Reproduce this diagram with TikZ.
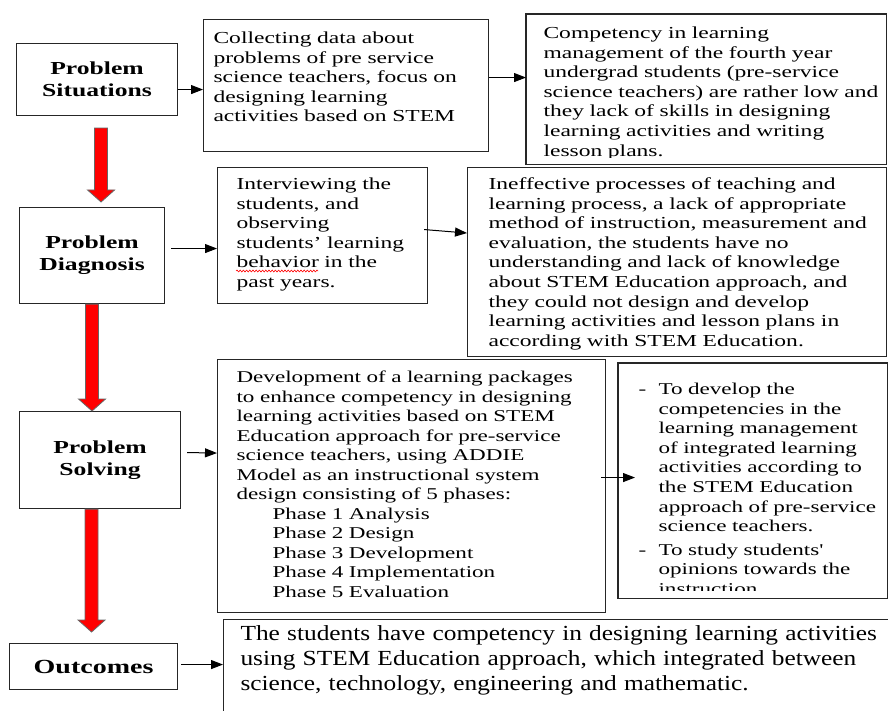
\documentclass[tikz,border=0pt]{standalone}
\usepackage{fontspec}
\setmainfont{Liberation Serif}[FakeStretch=1.4]
\newfontfamily\widerm{Liberation Serif}[FakeStretch=1.18]
\usetikzlibrary{arrows.meta,calc,decorations.pathmorphing}

\begin{document}
\begin{tikzpicture}[x=1pt,y=-1pt]
  \tikzset{boxline/.style = {draw=black!85, line width=1.1pt}}
  \tikzset{label/.style = {boxline, anchor=north west, inner sep=0pt, align=center, font=\bfseries\fontsize{18.3}{22}\selectfont}}
  \tikzset{tbox/.style = {boxline, anchor=north west, inner sep=0pt, align=left, font=\fontsize{16.8}{19.6}\selectfont}}
  \tikzset{lpad/.style = {execute at begin node={\leftskip=#1\relax}}}
  \tikzset{edge/.style = {-{Triangle[length=12pt,width=9pt]}, line width=1pt}}
  \tikzset{redarrow/.style = {fill=red, draw=black!60, line width=0.8pt}}
  \tikzset{spellwave/.style = {red, line width=0.6pt, decorate, decoration={snake, amplitude=0.9pt, segment length=3.2pt}}}

  \useasboundingbox (0,0) rectangle (888,711);
  \clip (0,0) rectangle (888,711);

  % stages
  \node[label, minimum width=161pt, minimum height=72pt] (sit) at (16,43) {Problem\\Situations};
  \node[label, minimum width=145pt, minimum height=96pt] (diag) at (19,207) {Problem\\Diagnosis};
  \node[label, minimum width=161pt, minimum height=97pt] (solv) at (19,411) {Problem\\Solving};
  \node[label, minimum width=168pt, minimum height=46pt, font=\bfseries\fontsize{20}{24}\selectfont] (outc) at (9,643) {Outcomes};

  % text boxes
  \node[tbox, text width=285pt, text height=24pt, text depth=108pt, lpad=10pt] (collect) at (203,19) {%
    Collecting data about\\
    problems of pre service\\
    science teachers, focus on\\
    designing learning\\
    activities based on STEM};

  \begin{scope}
    \clip (526,14) rectangle (885,158);
    \node[tbox, draw=none, text width=359pt, text height=24pt, text depth=125pt, lpad=17pt] (comp) at (526,14) {%
      Competency in learning\\
      management of the fourth year\\
      undergrad students (pre-service\\
      science teachers) are rather low and\\
      they lack of skills in designing\\
      learning activities and writing\\
      lesson plans.};
  \end{scope}
  \draw[boxline] (comp.north west) rectangle (comp.south east);

  \node[tbox, text width=210pt, text height=22pt, text depth=114pt, lpad=19pt] (interv) at (217,167) {%
    Interviewing the\\
    students, and\\
    observing\\
    students’ learning\\
    behavior in the\\
    past years.};
  \coordinate (typo) at ([xshift=19pt,yshift=-104pt]interv.north west);
  \draw[spellwave] (typo) -- ([xshift=82pt]typo);

  \node[tbox, text width=419pt, text height=22pt, text depth=167pt, lpad=21pt] (ineff) at (467,167) {%
    Ineffective processes of teaching and\\
    learning process, a lack of appropriate\\
    method of instruction, measurement and\\
    evaluation, the students have no\\
    understanding and lack of knowledge\\
    about STEM Education approach, and\\
    they could not design and develop\\
    learning activities and lesson plans in\\
    according with STEM Education.};

  \node[tbox, text width=388pt, text height=23pt, text depth=230pt, lpad=19pt, font=\fontsize{16.5}{19.5}\selectfont] (dev) at (217,359) {%
    Development of a learning packages\\
    to enhance competency in designing\\
    learning activities based on STEM\\
    Education approach for pre-service\\
    science teachers, using ADDIE\\
    Model as an instructional system\\
    design consisting of 5 phases:\\
    \hspace*{36pt}Phase 1 Analysis\\
    \hspace*{36pt}Phase 2 Design\\
    \hspace*{36pt}Phase 3 Development\\
    \hspace*{36pt}Phase 4 Implementation\\
    \hspace*{36pt}Phase 5 Evaluation};

  \begin{scope}
    \clip (618,363) rectangle (886,590);
    \node[tbox, draw=none, text width=268pt, text height=31pt, text depth=203pt, lpad=20pt, font=\fontsize{16.5}{19.6}\selectfont] (obj) at (618,363) {%
      \begin{tabular}[t]{@{}p{20pt}@{}l@{}}
        - & To develop the\\
          & competencies in the\\
          & learning management\\
          & of integrated learning\\
          & activities according to\\
          & the STEM Education\\
          & approach of pre-service\\
          & science teachers.\\[4pt]
        - & To study students\textquotesingle\\
          & opinions towards the\\
          & instruction
      \end{tabular}};
  \end{scope}
  \draw[boxline] (obj.north west) rectangle (obj.south east);

  \node[tbox, text width=700pt, text height=21pt, text depth=150pt, lpad=17pt, font=\widerm\fontsize{21.5}{25}\selectfont] (result) at (223,619) {%
    The students have competency in designing learning activities\\
    using STEM Education approach, which integrated between\\
    science, technology, engineering and mathematic.};

  % red arrows between stages
  \foreach \from/\to/\dx/\gs/\ge in {sit/diag/4/12/5, diag/solv/0/0/0, solv/outc/-8.5/0/11}
    \draw[redarrow] let \p1=([xshift=\dx pt,yshift=-\gs pt]\from.south), \p2=([yshift=\ge pt]\to.north) in
      (\x1-6.5pt,\y1) -- (\x1+6.5pt,\y1) -- (\x1+6.5pt,\y2+12pt) -- (\x1+13.5pt,\y2+12pt)
      -- (\x1,\y2) -- (\x1-13.5pt,\y2+12pt) -- (\x1-6.5pt,\y2+12pt) -- cycle;

  % thin arrows
  \draw[edge] ([yshift=-10pt]sit.east) -- ([yshift=-4pt]collect.west);
  \draw[edge] ([yshift=8pt]collect.east) -- ([yshift=11.5pt]comp.west);
  \draw[edge] ([xshift=6pt,yshift=7pt]diag.east) -- ([yshift=-13pt]interv.west);
  \draw[edge] ([xshift=-4pt,yshift=6pt]interv.east) -- ([yshift=29pt]ineff.west);
  \draw[edge] ([xshift=6pt,yshift=7.5pt]solv.east) -- ([yshift=33pt]dev.west);
  \draw[edge] ([xshift=-5pt,yshift=8.5pt]dev.east) -- ([xshift=17pt,yshift=3pt]obj.west);
  \draw[edge] ([xshift=3pt,yshift=2pt]outc.east) -- ([yshift=40.5pt]result.west);
\end{tikzpicture}
\end{document}
